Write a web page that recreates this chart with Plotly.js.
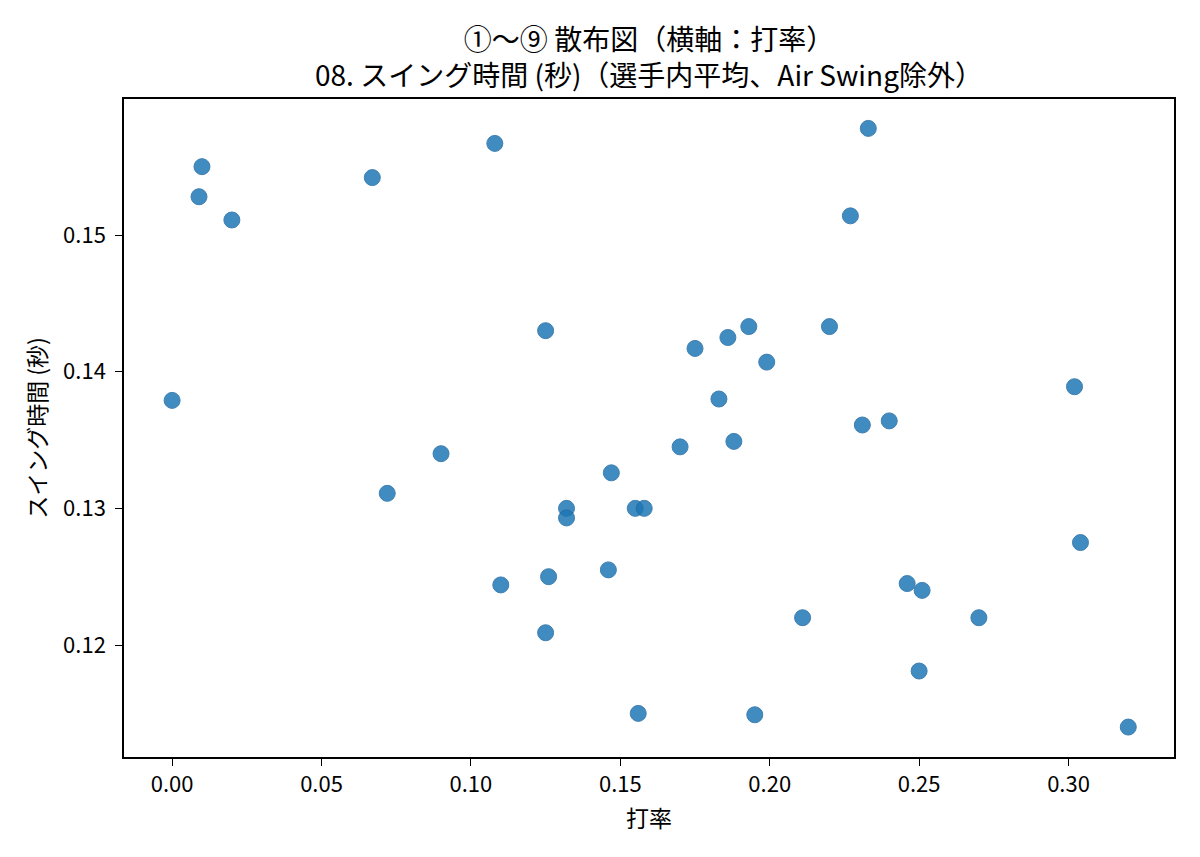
<!DOCTYPE html>
<html>
<head>
<meta charset="utf-8">
<script src="https://cdn.plot.ly/plotly-3.0.1.min.js"></script>
<style>
  html, body { margin: 0; padding: 0; background: #fff; }
  #chart { width: 1200px; height: 857px; }
</style>
</head>
<body>
<div id="chart"></div>
<script>
// 打率 (batting average) per player
var battingAvg = [
  0.010, 0.009, 0.020, 0.067, 0.108, 0.125, 0.000,
  0.233, 0.227, 0.193, 0.186, 0.175, 0.220, 0.199, 0.183, 0.302, 0.231, 0.240,
  0.090, 0.072, 0.147, 0.132, 0.132, 0.155, 0.158, 0.110, 0.126, 0.146, 0.125, 0.156,
  0.170, 0.188, 0.304, 0.246, 0.251, 0.211, 0.270, 0.250, 0.195, 0.320
];

// スイング時間 (秒), mean per player
var swingTime = [
  0.1550, 0.1528, 0.1511, 0.1542, 0.1567, 0.1430, 0.1379,
  0.1578, 0.1514, 0.1433, 0.1425, 0.1417, 0.1433, 0.1407, 0.1380, 0.1389, 0.1361, 0.1364,
  0.1340, 0.1311, 0.1326, 0.1300, 0.1293, 0.1300, 0.1300, 0.1244, 0.1250, 0.1255, 0.1209, 0.1150,
  0.1345, 0.1349, 0.1275, 0.1245, 0.1240, 0.1220, 0.1220, 0.1181, 0.1149, 0.1140
];

var xTicks = [0, 0.05, 0.10, 0.15, 0.20, 0.25, 0.30];
var yTicks = [0.12, 0.13, 0.14, 0.15];

var font = 'Noto Sans CJK JP, Noto Sans, sans-serif';

var trace = {
  x: battingAvg,
  y: swingTime,
  mode: 'markers',
  type: 'scatter',
  marker: {
    color: '#1f77b4',
    opacity: 0.85,
    size: 16,
    line: { color: '#1f6aa5', width: 1 }
  },
  hoverinfo: 'x+y'
};

var layout = {
  width: 1200,
  height: 857,
  paper_bgcolor: '#fff',
  plot_bgcolor: '#fff',
  showlegend: false,
  margin: { l: 124, r: 26, t: 99, b: 100 },
  font: { family: font, size: 22, color: '#000' },
  title: {
    text: '①〜⑨ 散布図（横軸：打率）<br>08. スイング時間 (秒)（選手内平均、Air Swing除外）',
    font: { family: font, size: 28, color: '#000' },
    x: 0.5,
    xref: 'paper',
    xanchor: 'center',
    y: 1 - 50 / 857,
    yref: 'container',
    yanchor: 'middle'
  },
  xaxis: {
    title: { text: '打率', font: { family: font, size: 23 }, standoff: 14 },
    range: [-0.0161, 0.3353],
    tickvals: xTicks,
    tickformat: '.2f',
    tickfont: { size: 22 },
    ticks: 'outside',
    ticklen: 7,
    tickwidth: 1.3,
    tickcolor: '#000',
    showgrid: false,
    zeroline: false,
    showline: true,
    linecolor: '#000',
    linewidth: 1.5,
    mirror: true
  },
  yaxis: {
    title: { text: 'スイング時間 (秒)', font: { family: font, size: 23 }, standoff: 10 },
    range: [0.11181, 0.15995],
    tickvals: yTicks,
    tickformat: '.2f',
    tickfont: { size: 22 },
    ticklabelstandoff: 5,
    ticks: 'outside',
    ticklen: 7,
    tickwidth: 1.3,
    tickcolor: '#000',
    showgrid: false,
    zeroline: false,
    showline: true,
    linecolor: '#000',
    linewidth: 1.5,
    mirror: true
  }
};

Plotly.newPlot('chart', [trace], layout, { displayModeBar: false });
</script>
</body>
</html>
